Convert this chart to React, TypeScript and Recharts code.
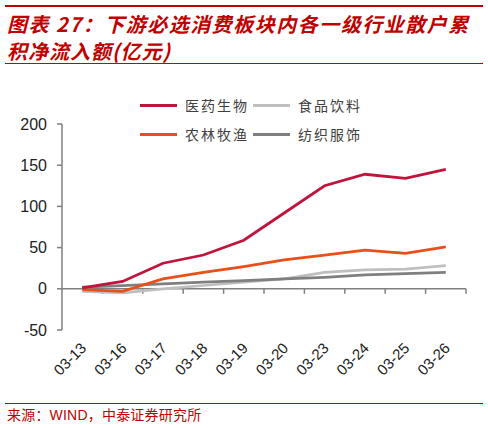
import { LineChart, Line, XAxis, YAxis, ReferenceLine } from 'recharts';

const dates = ['03-13', '03-16', '03-17', '03-18', '03-19', '03-20', '03-23', '03-24', '03-25', '03-26'];
const yiyao = [1, 9, 31, 41, 59, 92, 125, 139, 134, 145];
const shipin = [-3, -5, 0, 4, 8, 12, 20, 23, 24, 28];
const nonglin = [-1, -3, 12, 20, 27, 35, 41, 47, 43, 51];
const fangzhi = [2, 4, 6, 8, 10, 12, 14, 17, 18.5, 20];
const yTicks = [-50, 0, 50, 100, 150, 200];

const series = [
  { key: 'yiyao', name: '医药生物', color: '#C0143C', values: yiyao },
  { key: 'shipin', name: '食品饮料', color: '#BFBFBF', values: shipin },
  { key: 'nonglin', name: '农林牧渔', color: '#E8501A', values: nonglin },
  { key: 'fangzhi', name: '纺织服饰', color: '#7F7F7F', values: fangzhi },
];

const data = dates.map((d, i) => {
  const row: Record<string, string | number> = { date: d };
  series.forEach(s => {
    row[s.key] = s.values[i];
  });
  return row;
});

const RED = '#C00000';
const AXIS = '#808080';
const LATIN = "'Liberation Sans', Arial, sans-serif";
const CJK = "'Noto Sans CJK SC', sans-serif";

// zero line with small ticks hanging below at category boundaries
function ZeroAxis(props: any) {
  const { x1, x2, y1 } = props;
  const n = dates.length;
  const step = (x2 - x1) / n;
  return (
    <g>
      <line x1={x1} x2={x2} y1={y1} y2={y1} stroke={AXIS} strokeWidth={1.5} />
      {dates.map((d, i) => (
        <line
          key={d}
          x1={x1 + step * (i + 1)}
          x2={x1 + step * (i + 1)}
          y1={y1}
          y2={y1 + 5}
          stroke={AXIS}
          strokeWidth={1.5}
        />
      ))}
    </g>
  );
}

function LegendBox() {
  return (
    <div style={{ display: 'grid', gridTemplateColumns: '113px 113px', rowGap: 11 }}>
      {series.map(s => (
        <div key={s.key} style={{ display: 'flex', alignItems: 'center', height: 18 }}>
          <span style={{ display: 'inline-block', width: 37, height: 3, background: s.color, marginRight: 8 }} />
          <span style={{ fontFamily: CJK, fontSize: 14, letterSpacing: 2, color: '#404040' }}>{s.name}</span>
        </div>
      ))}
    </div>
  );
}

function XTick(props: any) {
  const { x, y, payload } = props;
  const ax = x + 5;
  const ay = y + 11;
  return (
    <text
      x={ax}
      y={ay}
      transform={`rotate(-45 ${ax} ${ay})`}
      textAnchor="end"
      fontFamily={LATIN}
      fontSize={15}
      fill="#222"
    >
      {payload.value}
    </text>
  );
}

export default function App() {
  return (
    <div style={{ position: 'absolute', left: 0, top: 0, width: 488, height: 428, background: '#fff', overflow: 'hidden' }}>
      <div style={{ position: 'absolute', left: 5, top: 5, width: 478, height: 2, background: RED }} />
      <div
        style={{
          position: 'absolute',
          left: 7,
          top: 10,
          fontFamily: CJK,
          fontWeight: 700,
          fontStyle: 'italic',
          fontSize: 20,
          lineHeight: '27px',
          letterSpacing: 1.5,
          color: RED,
          whiteSpace: 'nowrap',
        }}
      >
        <div>图表 27：下游必选消费板块内各一级行业散户累</div>
        <div style={{ letterSpacing: 1 }}>积净流入额(亿元)</div>
      </div>
      <div style={{ position: 'absolute', left: 5, top: 63, width: 478, height: 1, background: RED }} />

      <div style={{ position: 'absolute', left: 0, top: 0 }}>
        <LineChart width={488} height={428} data={data} margin={{ top: 124, right: 22, bottom: 48, left: 0 }}>
          <XAxis
            dataKey="date"
            scale="band"
            axisLine={false}
            tickLine={false}
            interval={0}
            height={50}
            tick={<XTick />}
          />
          <YAxis
            domain={[-50, 200]}
            ticks={yTicks}
            width={62}
            axisLine={{ stroke: AXIS, strokeWidth: 1.5 }}
            tickLine={{ stroke: AXIS, strokeWidth: 1.5 }}
            tickSize={5}
            tickMargin={10}
            tick={{ fontFamily: LATIN, fontSize: 16, fill: '#222' }}
          />
          <ReferenceLine y={0} shape={<ZeroAxis />} />
          <Line type="linear" dataKey="shipin" name="食品饮料" stroke="#BFBFBF" strokeWidth={2.75} dot={false} isAnimationActive={false} />
          <Line type="linear" dataKey="fangzhi" name="纺织服饰" stroke="#7F7F7F" strokeWidth={2.75} dot={false} isAnimationActive={false} />
          <Line type="linear" dataKey="nonglin" name="农林牧渔" stroke="#E8501A" strokeWidth={2.75} dot={false} isAnimationActive={false} />
          <Line type="linear" dataKey="yiyao" name="医药生物" stroke="#C0143C" strokeWidth={2.75} dot={false} isAnimationActive={false} />
        </LineChart>
      </div>

      <div style={{ position: 'absolute', left: 140, top: 96 }}>
        <LegendBox />
      </div>

      <div style={{ position: 'absolute', left: 5, top: 403, width: 478, height: 1, background: RED }} />
      <div
        style={{
          position: 'absolute',
          left: 7,
          top: 405,
          fontFamily: CJK,
          fontSize: 14,
          lineHeight: '18px',
          letterSpacing: 0.2,
          color: RED,
          whiteSpace: 'nowrap',
        }}
      >
        来源：<span style={{ fontFamily: LATIN }}>WIND</span>，中泰证券研究所
      </div>
    </div>
  );
}
